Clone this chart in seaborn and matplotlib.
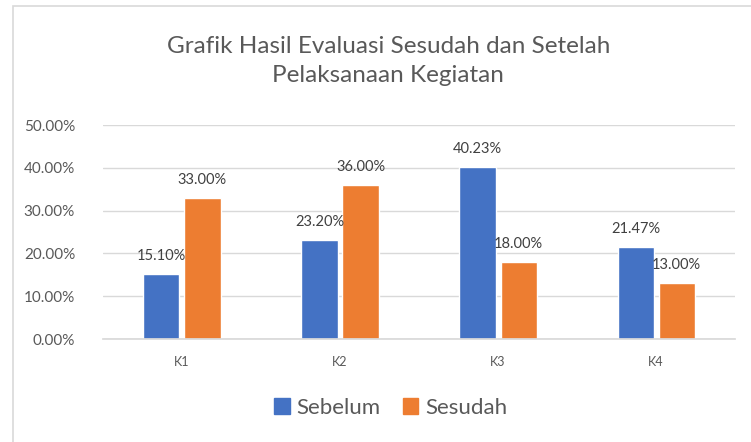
import matplotlib.pyplot as plt
import matplotlib.patches as mpatches
import seaborn as sns
import pandas as pd

categories = ['K1', 'K2', 'K3', 'K4']
sebelum = [0.1510, 0.2320, 0.4023, 0.2147]
sesudah = [0.33, 0.36, 0.18, 0.13]

df = pd.DataFrame({
    'Kategori': categories * 2,
    'Nilai': sebelum + sesudah,
    'Seri': ['Sebelum'] * 4 + ['Sesudah'] * 4,
})

sns.set_theme(style='white')
plt.rcParams['font.family'] = ['Lato', 'DejaVu Sans']
grey = '#595959'

fig = plt.figure(figsize=(7.51, 4.42), dpi=100)
ax = fig.add_axes([0.137, 0.233, 0.842, 0.484])

# outer chart border (left and top visible)
fig.patches.append(mpatches.Rectangle((13 / 751, -0.1), 1.0, 1 - 6 / 442 + 0.1,
                                      transform=fig.transFigure, fill=False,
                                      edgecolor='#d9d9d9', linewidth=1.2))

sns.barplot(data=df, x='Kategori', y='Nilai', hue='Seri', ax=ax,
            palette=['#4472c4', '#ed7d31'], width=0.52, gap=0.12,
            saturation=1, legend=False)

ax.set_ylim(0, 0.5)
ax.set_yticks([0, 0.1, 0.2, 0.3, 0.4, 0.5])
ax.set_yticklabels([f'{v * 100:.2f}%' for v in ax.get_yticks()])
ax.set_xlim(-0.5, 3.5)
ax.grid(axis='y', color='#d9d9d9', linewidth=1)
ax.set_axisbelow(True)
for s in ['top', 'right', 'left']:
    ax.spines[s].set_visible(False)
ax.spines['bottom'].set_color('#d9d9d9')
ax.tick_params(axis='y', labelsize=11, colors=grey, length=0, pad=20)
ax.tick_params(axis='x', labelsize=9, colors=grey, length=0, pad=12)
ax.set_xlabel('')
ax.set_ylabel('')

for cont in ax.containers:
    labels = [f'{b.get_height() * 100:.2f}%' for b in cont]
    ax.bar_label(cont, labels=labels, padding=8, fontsize=10.5, color='#404040')

fig.text(0.517, 0.862, 'Grafik Hasil Evaluasi Sesudah dan Setelah\nPelaksanaan Kegiatan',
         ha='center', va='center', fontsize=17.5, color=grey, linespacing=1.45)

handles = [mpatches.Patch(color='#4472c4', label='Sebelum'),
           mpatches.Patch(color='#ed7d31', label='Sesudah')]
fig.legend(handles=handles, loc='center', bbox_to_anchor=(0.52, 0.077), ncol=2,
           frameon=False, fontsize=16, labelcolor=grey, handlelength=0.7,
           handleheight=0.7, handletextpad=0.3, columnspacing=1.0)

fig.savefig('out.png', dpi=100)
